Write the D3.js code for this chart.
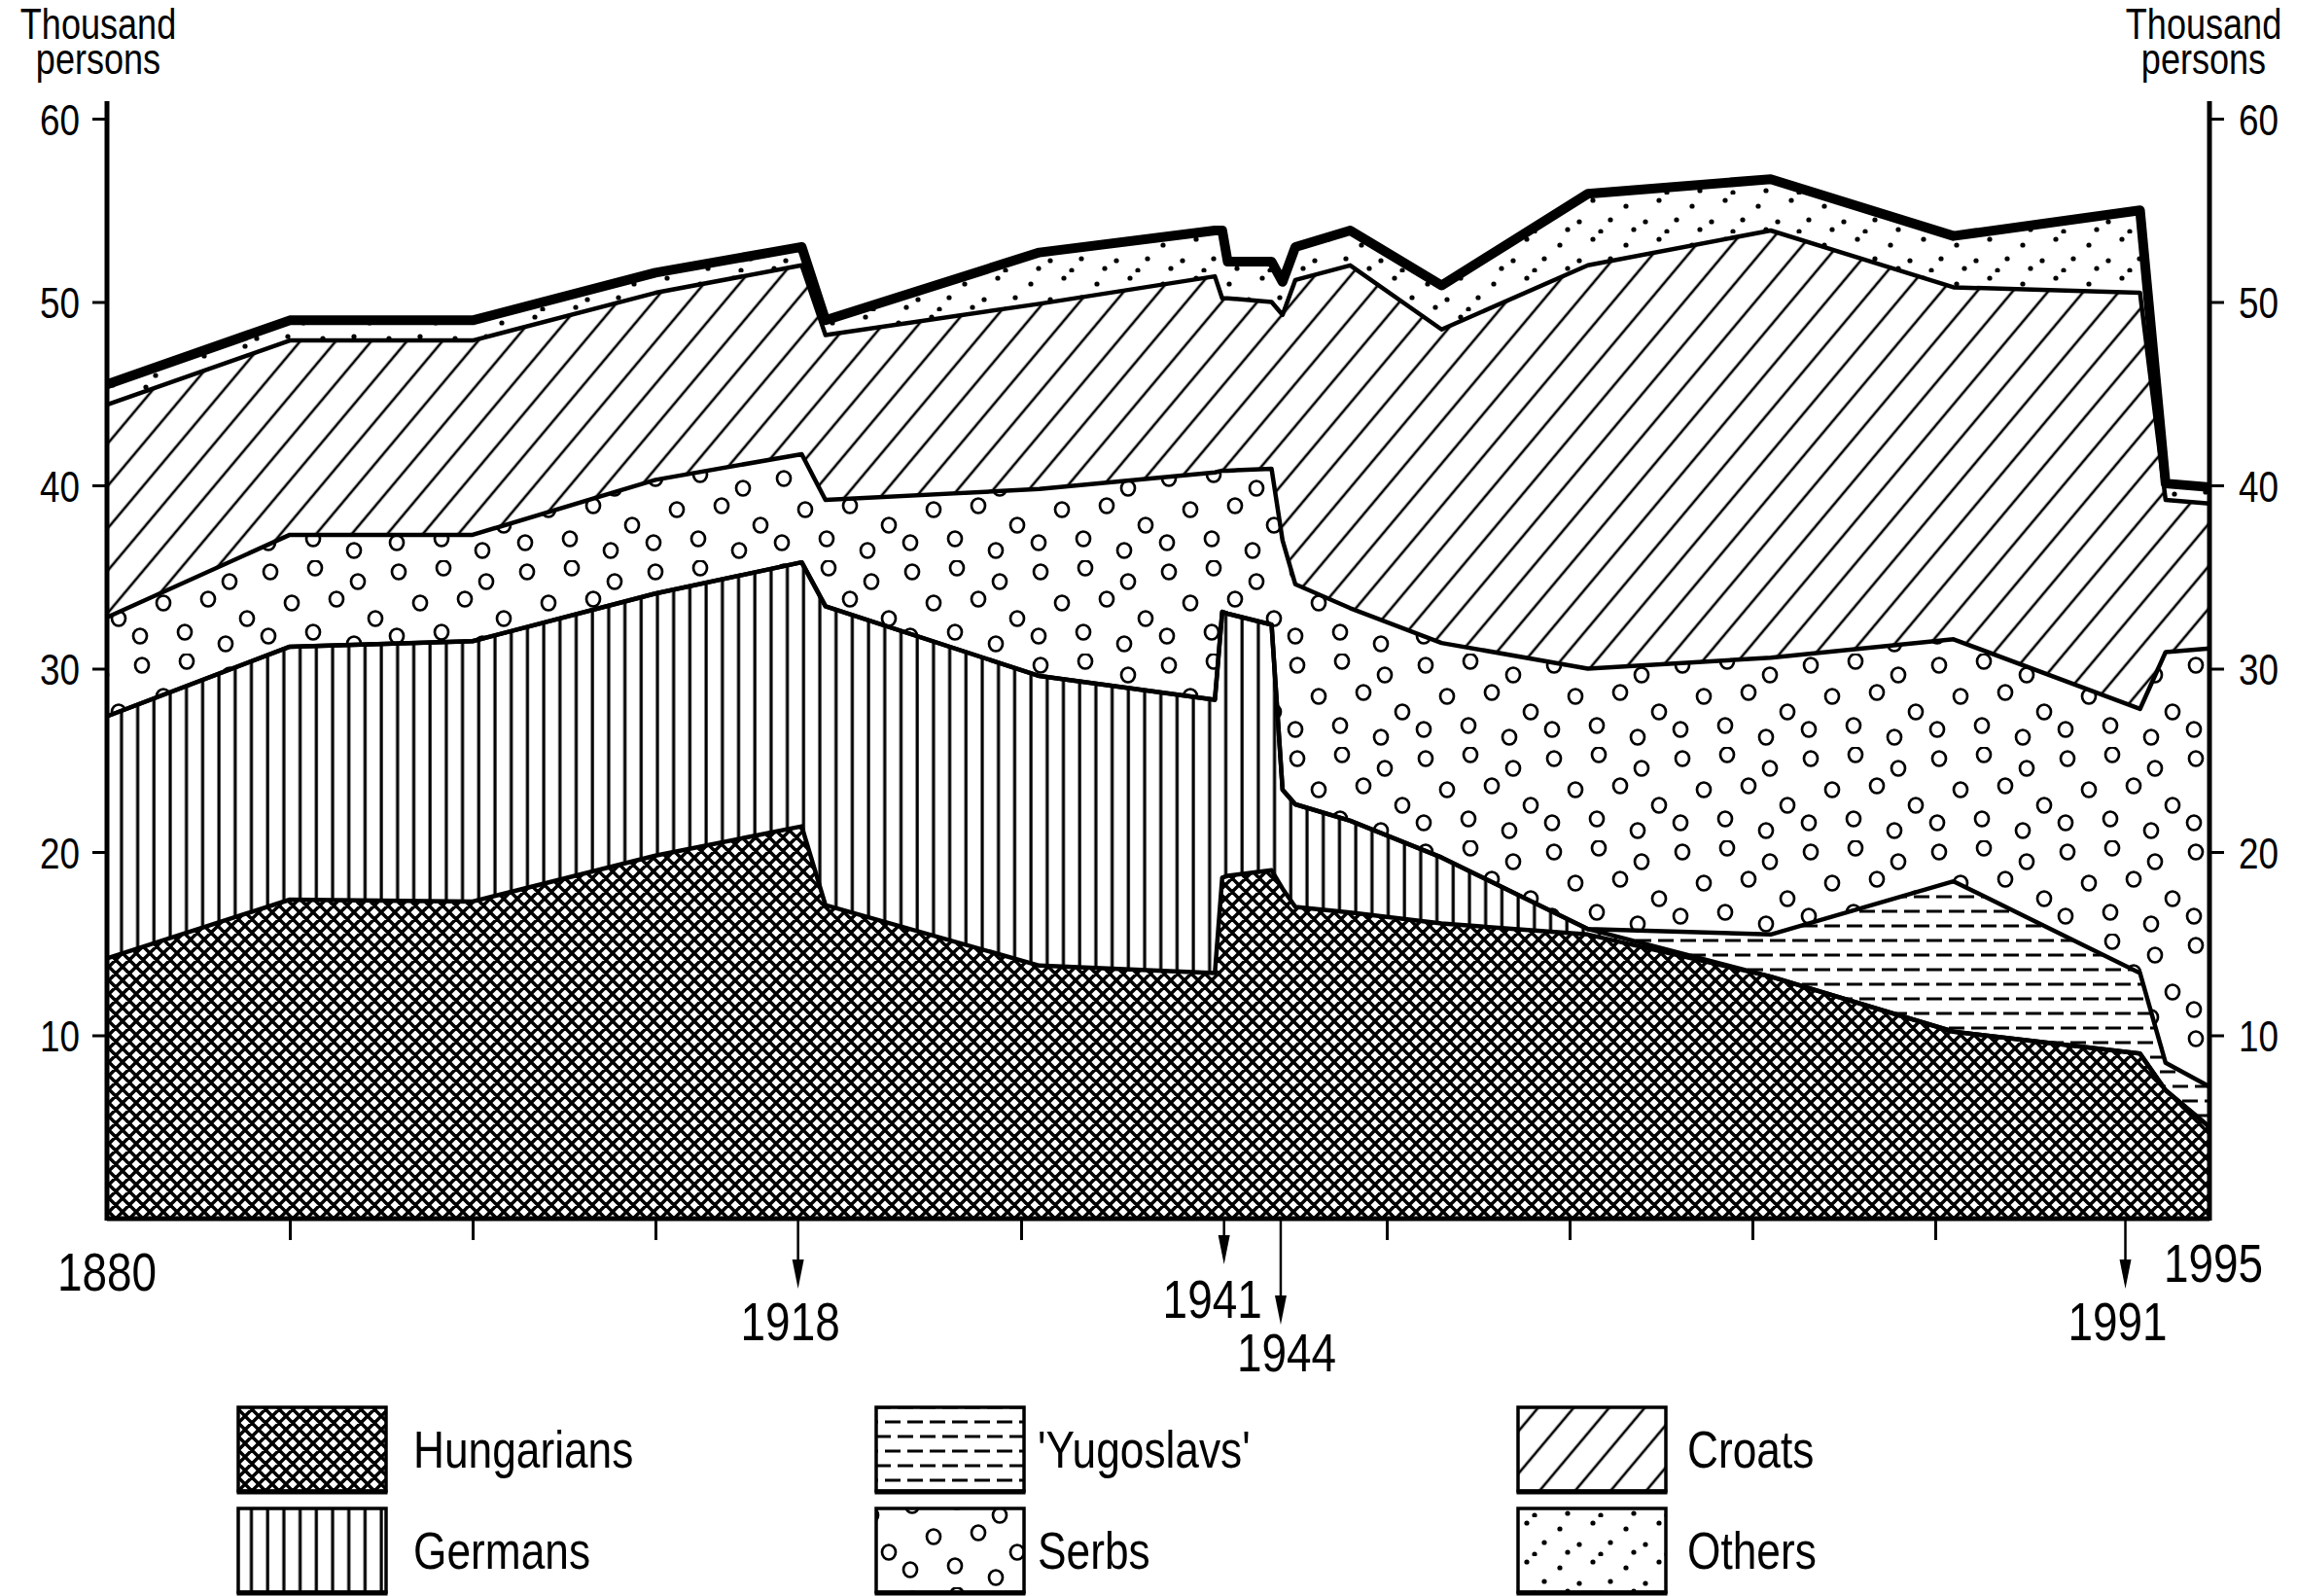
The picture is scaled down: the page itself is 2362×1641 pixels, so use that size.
<!DOCTYPE html>
<html>
<head>
<meta charset="utf-8">
<script src="https://cdn.jsdelivr.net/npm/d3@7/dist/d3.min.js"></script>
<style>
  html, body { margin: 0; padding: 0; background: #fff; }
  svg text { font-family: "Liberation Sans", Arial, sans-serif; fill: #000; }
</style>
</head>
<body>
<svg id="chart" width="2362" height="1641"></svg>
<script>
// ---------- data (thousand persons) ----------
const years      = [1880, 1890, 1900, 1910, 1918, 1919.3, 1931, 1940.6, 1941.0, 1941.3, 1943.7, 1944.3, 1945.0, 1948, 1953, 1961, 1971, 1981, 1991.2, 1992.6, 1995];
const hungarians = [14.2, 17.4, 17.3, 19.8, 21.4, 17.1, 13.8, 13.4, 18.6, 18.7, 19.0, 18.0, 17.0, 16.7, 16.1, 15.5, 13.2, 10.2, 9.0, 7.0, 5.0];
const germans    = [13.2, 13.8, 14.2, 14.3, 14.4, 16.3, 15.8, 14.9, 14.5, 14.3, 13.4, 5.4, 5.6, 5.0, 3.6, 0.3, 0, 0, 0, 0, 0];
const yugoslavs  = [0, 0, 0, 0, 0, 0, 0, 0, 0, 0, 0, 0, 0, 0, 0, 0, 2.3, 8.2, 4.4, 1.5, 2.2];
const serbs      = [5.4, 6.1, 5.8, 6.2, 5.9, 5.8, 10.2, 12.4, 7.7, 7.8, 8.5, 13.6, 12.0, 11.6, 11.7, 14.2, 15.1, 13.2, 14.4, 22.4, 23.9];
const croats     = [11.6, 10.6, 10.6, 10.2, 10.3, 9.0, 10.1, 10.7, 9.4, 9.4, 9.1, 12.3, 16.6, 18.7, 17.1, 22.0, 23.3, 19.2, 22.7, 8.3, 7.9];
const others     = [1.1, 1.1, 1.1, 1.1, 1.0, 0.8, 2.8, 2.5, 3.7, 2.0, 2.2, 1.8, 1.8, 1.9, 2.4, 3.9, 2.8, 2.8, 4.5, 0.9, 0.9];

const seriesKeys   = ["hungarians", "germans", "yugoslavs", "serbs", "croats", "others"];
const seriesLabels = ["Hungarians", "Germans", "'Yugoslavs'", "Serbs", "Croats", "Others"];
const yTicks       = [10, 20, 30, 40, 50, 60];
const xTicks       = [1890, 1900, 1910, 1930, 1950, 1960, 1970, 1980];
const eventYears   = [1918, 1941, 1944, 1991];          // labels of the event arrows
const eventAt      = [1917.8, 1941.1, 1944.2, 1990.4];  // where the arrows sit on the time axis
const endYears     = [1880, 1995];

// ---------- setup ----------
const NARROW = 0.82;   // horizontal squeeze to imitate a narrow typeface
const svg = d3.select("#chart");
svg.append("rect").attr("width", 2362).attr("height", 1641).attr("fill", "#fff");

const x = d3.scaleLinear().domain([1880, 1995]).range([110, 2272]);
const y = d3.scaleLinear().domain([0, 60]).range([1253, 122]);

function narrowText(g, tx, ty, str, size, anchor) {
  return g.append("text")
    .attr("transform", `translate(${tx},${ty}) scale(${NARROW},1)`)
    .attr("text-anchor", anchor || "start")
    .attr("font-size", size)
    .text(str);
}

const rows = years.map((yr, i) => ({
  year: yr, hungarians: hungarians[i], germans: germans[i], yugoslavs: yugoslavs[i],
  serbs: serbs[i], croats: croats[i], others: others[i]
}));
const stacked = d3.stack().keys(seriesKeys)(rows);

// ---------- patterns ----------
const defs = svg.append("defs");

// Hungarians: diagonal lattice
const pH = defs.append("pattern").attr("id", "p-hungarians").attr("patternUnits", "userSpaceOnUse")
  .attr("width", 14).attr("height", 14);
pH.append("rect").attr("width", 14).attr("height", 14).attr("fill", "#fff");
pH.append("path").attr("d", "M-2,-2 L16,16 M16,-2 L-2,16 M-2,12 L2,16 M12,-2 L16,2 M12,16 L16,12 M-2,2 L2,-2")
  .attr("stroke", "#000").attr("stroke-width", 3.4).attr("fill", "none");

// Germans: vertical lines
const pG = defs.append("pattern").attr("id", "p-germans").attr("patternUnits", "userSpaceOnUse")
  .attr("width", 16.7).attr("height", 20);
pG.append("rect").attr("width", 16.7).attr("height", 20).attr("fill", "#fff");
pG.append("line").attr("x1", 8).attr("x2", 8).attr("y1", -1).attr("y2", 21)
  .attr("stroke", "#000").attr("stroke-width", 3.2);

// Yugoslavs: horizontal dashes
const pY = defs.append("pattern").attr("id", "p-yugoslavs").attr("patternUnits", "userSpaceOnUse")
  .attr("width", 46).attr("height", 30);
pY.append("rect").attr("width", 46).attr("height", 30).attr("fill", "#fff");
pY.append("path").attr("d", "M3,7 H19 M26,7 H42 M-10,22 H6 M13,22 H29 M36,22 H52")
  .attr("stroke", "#000").attr("stroke-width", 2.8);

// Serbs: small circles
const pS = defs.append("pattern").attr("id", "p-serbs").attr("patternUnits", "userSpaceOnUse")
  .attr("width", 132).attr("height", 96);
pS.append("rect").attr("width", 132).attr("height", 96).attr("fill", "#fff");
[[14,12],[60,8],[104,22],[36,44],[82,40],[122,60],[12,78],[58,74],[100,86]].forEach(c => {
  pS.append("ellipse").attr("cx", c[0]).attr("cy", c[1]).attr("rx", 7).attr("ry", 7.5)
    .attr("fill", "none").attr("stroke", "#000").attr("stroke-width", 2.7);
});

// Croats: diagonal hatching
const pC = defs.append("pattern").attr("id", "p-croats").attr("patternUnits", "userSpaceOnUse")
  .attr("width", 28).attr("height", 40).attr("patternTransform", "rotate(40)");
pC.append("rect").attr("width", 28).attr("height", 40).attr("fill", "#fff");
pC.append("line").attr("x1", 14).attr("x2", 14).attr("y1", -1).attr("y2", 41)
  .attr("stroke", "#000").attr("stroke-width", 2.6);

// Others: sparse dots
const pO = defs.append("pattern").attr("id", "p-others").attr("patternUnits", "userSpaceOnUse")
  .attr("width", 68).attr("height", 40);
pO.append("rect").attr("width", 68).attr("height", 40).attr("fill", "#fff");
[[6,6],[40,12],[60,28],[24,26],[48,36],[14,38]].forEach(c => {
  pO.append("circle").attr("cx", c[0]).attr("cy", c[1]).attr("r", 2.6).attr("fill", "#000");
});

// ---------- areas ----------
const area = d3.area().x(d => x(d.data.year)).y0(d => y(d[0])).y1(d => y(d[1]));
svg.append("g").selectAll("path").data(stacked).join("path")
  .attr("d", area)
  .attr("fill", d => `url(#p-${d.key})`)
  .attr("stroke", "none");

// boundary lines
const topLine = d3.line().x(d => x(d.data.year)).y(d => y(d[1]));
svg.append("g").selectAll("path").data(stacked).join("path")
  .attr("d", topLine)
  .attr("fill", "none")
  .attr("stroke", "#000")
  .attr("stroke-linejoin", "round")
  .attr("stroke-width", d => d.key === "others" ? 10 : 4.5);

// ---------- axes ----------
const axisG = svg.append("g");
axisG.append("line").attr("x1", x(1880)).attr("x2", x(1995)).attr("y1", y(0)).attr("y2", y(0))
  .attr("stroke", "#000").attr("stroke-width", 5);
axisG.append("line").attr("x1", x(1880)).attr("x2", x(1880)).attr("y1", y(0) + 2).attr("y2", y(60) - 18)
  .attr("stroke", "#000").attr("stroke-width", 5);
axisG.append("line").attr("x1", x(1995)).attr("x2", x(1995)).attr("y1", y(0) + 2).attr("y2", y(60) - 18)
  .attr("stroke", "#000").attr("stroke-width", 5);

const leftAxis = svg.append("g").attr("transform", `translate(${x(1880)},0)`)
  .call(d3.axisLeft(y).tickValues(yTicks).tickSize(15).tickFormat(d3.format("d")));
const rightAxis = svg.append("g").attr("transform", `translate(${x(1995)},0)`)
  .call(d3.axisRight(y).tickValues(yTicks).tickSize(15).tickFormat(d3.format("d")));
[[leftAxis, -28], [rightAxis, 30]].forEach(([g, off]) => {
  g.select(".domain").remove();
  g.selectAll(".tick line").attr("stroke", "#000").attr("stroke-width", 3);
  g.selectAll(".tick text")
    .attr("font-size", 45).attr("font-family", null).attr("fill", "#000")
    .attr("x", off / NARROW).attr("dy", "0.36em")
    .attr("transform", `scale(${NARROW},1)`);
});

const bottomAxis = svg.append("g").attr("transform", `translate(0,${y(0)})`)
  .call(d3.axisBottom(x).tickValues(xTicks).tickSize(22).tickFormat(""));
bottomAxis.select(".domain").remove();
bottomAxis.selectAll(".tick line").attr("stroke", "#000").attr("stroke-width", 3);

// end labels
const endLabelG = svg.append("g");
endYears.forEach(d => {
  narrowText(endLabelG, x(d) + (d === 1995 ? 4 : 0), d === 1880 ? 1327 : 1318, d, 56, "middle");
});

// event arrows
const tipY   = { 1918: 1325, 1941: 1300, 1944: 1362, 1991: 1325 };
const lblY   = { 1918: 1378, 1941: 1355, 1944: 1410, 1991: 1378 };
const lblDx  = { 1918: -8, 1941: -12, 1944: 6, 1991: -8 };
const evG = svg.append("g");
eventYears.forEach((ev, i) => {
  const ax = x(eventAt[i]);
  evG.append("line").attr("x1", ax).attr("x2", ax).attr("y1", y(0)).attr("y2", tipY[ev] - 20)
    .attr("stroke", "#000").attr("stroke-width", 2.5);
  evG.append("path").attr("d", `M${ax - 6},${tipY[ev] - 30} L${ax + 6},${tipY[ev] - 30} L${ax},${tipY[ev]} Z`)
    .attr("fill", "#000");
  narrowText(evG, ax + lblDx[ev], lblY[ev], ev, 56, "middle");
});

// unit labels
const unitG = svg.append("g");
[101, 2266].forEach(cx => {
  narrowText(unitG, cx, 40, "Thousand", 44, "middle");
  narrowText(unitG, cx, 76, "persons", 44, "middle");
});

// ---------- legend ----------
const legendPos = [
  { bx: 245, by: 1447, tx: 425 },   // Hungarians
  { bx: 245, by: 1551, tx: 425 },   // Germans
  { bx: 901, by: 1447, tx: 1067 },  // Yugoslavs
  { bx: 901, by: 1551, tx: 1067 },  // Serbs
  { bx: 1561, by: 1447, tx: 1735 }, // Croats
  { bx: 1561, by: 1551, tx: 1735 }  // Others
];
const leg = svg.append("g");
seriesKeys.forEach((k, i) => {
  const p = legendPos[i];
  const w = 152, h = 86;
  leg.append("rect").attr("x", p.bx).attr("y", p.by).attr("width", w).attr("height", h)
    .attr("fill", `url(#p-${k})`).attr("stroke", "#000").attr("stroke-width", 3.5);
  leg.append("line").attr("x1", p.bx - 1.5).attr("x2", p.bx + w + 1.5).attr("y1", p.by + h + 1).attr("y2", p.by + h + 1)
    .attr("stroke", "#000").attr("stroke-width", 5);
  narrowText(leg, p.tx, p.by + h / 2 + 19, seriesLabels[i], 54, "start");
});
</script>
</body>
</html>
